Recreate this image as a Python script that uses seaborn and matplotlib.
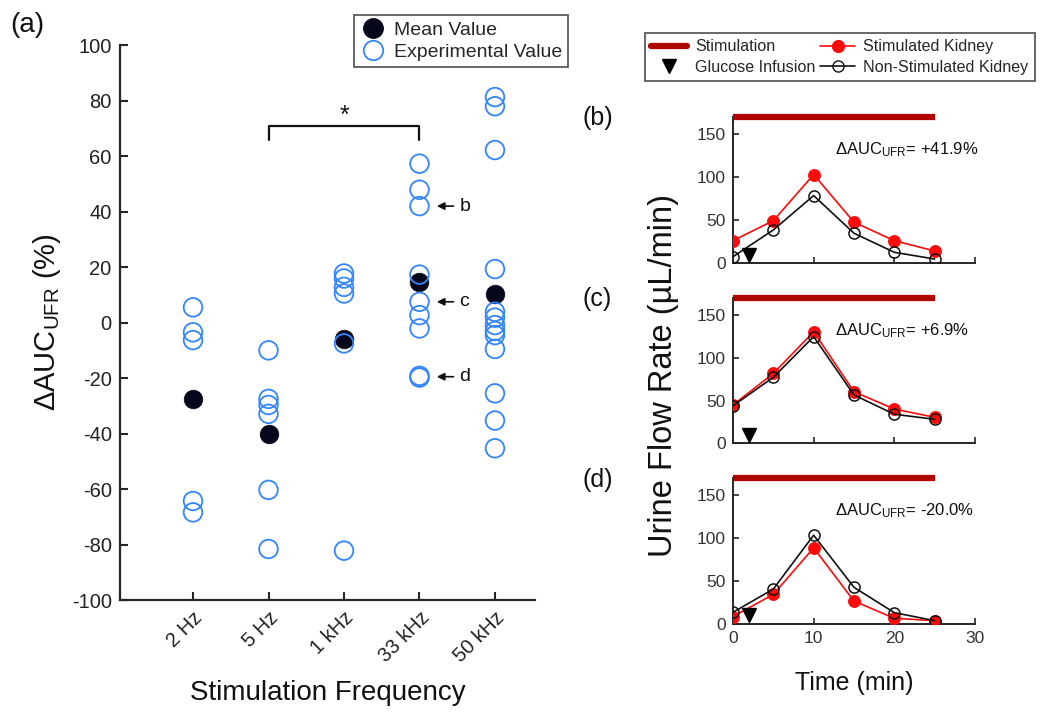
import numpy as np
import pandas as pd
import matplotlib
matplotlib.use("Agg")
import matplotlib.pyplot as plt
import seaborn as sns
from matplotlib.lines import Line2D

# ---------------- data ----------------
frequencies = ["2 Hz", "5 Hz", "1 kHz", "33 kHz", "50 kHz"]
exp_2hz = [5.5, -3.5, -6.3, -64.3, -68.4]
exp_5hz = [-10.0, -27.5, -29.7, -32.9, -60.3, -81.6]
exp_1khz = [17.7, 15.9, 12.9, 10.5, -7.5, -82.2]
exp_33khz = [57.3, 47.9, 42.0, 17.3, 7.5, 2.7, -2.1, -19.2, -19.8]
exp_50khz = [81.3, 78.0, 62.2, 19.3, 3.9, 1.8, -0.9, -3.0, -4.5, -9.5, -25.5, -35.3, -45.3]
mean_values = [-27.6, -40.2, -6.0, 14.7, 10.3]

# labelled example experiments (value of the marked 33 kHz points)
example_labels = ["b", "c", "d"]
example_values = [42.0, 7.5, -19.5]

time_min = [0, 5, 10, 15, 20, 25]
b_stim = [26.3, 49.5, 103.0, 47.7, 26.3, 14.3]
b_non = [7.7, 38.7, 78.6, 34.9, 12.8, 5.0]
c_stim = [44.8, 81.8, 130.5, 60.3, 40.1, 30.4]
c_non = [43.9, 77.2, 124.8, 56.5, 34.0, 28.1]
d_stim = [8.5, 34.5, 88.7, 26.7, 6.6, 3.9]
d_non = [13.6, 40.7, 103.5, 42.7, 13.2, 3.9]
delta_auc = ["+41.9%", "+6.9%", "-20.0%"]

stim_window = [0, 25]
stim_level = 170
glucose_time = 2
glucose_level = 10

# ---------------- style ----------------
sns.set_theme(style="ticks")
plt.rcParams["font.family"] = ["Liberation Sans", "DejaVu Sans"]
plt.rcParams["mathtext.fontset"] = "custom"
plt.rcParams["mathtext.rm"] = "Liberation Sans"
plt.rcParams["mathtext.it"] = "Liberation Sans:italic"
plt.rcParams["mathtext.bf"] = "Liberation Sans:bold"
plt.rcParams["axes.unicode_minus"] = False

AX_COL = "#262626"
BLUE = "#3385ff"
NAVY = "#07071c"
RED = "#ff0a0a"
DARKRED = "#b00000"

fig = plt.figure(figsize=(10.4, 7.15), dpi=100)

# ---------------- panel (a) ----------------
ax = fig.add_axes([0.1154, 0.1608, 0.399, 0.776])

exp_groups = [exp_2hz, exp_5hz, exp_1khz, exp_33khz, exp_50khz]
df_exp = pd.DataFrame({
    "pos": np.concatenate([[i] * len(g) for i, g in enumerate(exp_groups)]),
    "value": np.concatenate(exp_groups),
})
df_mean = pd.DataFrame({"pos": np.arange(len(frequencies)), "value": mean_values})

sns.scatterplot(data=df_mean, x="pos", y="value", ax=ax, s=180,
                color=NAVY, edgecolor=NAVY, linewidth=0.5, zorder=2, legend=False)
sns.scatterplot(data=df_exp, x="pos", y="value", ax=ax, s=180,
                color=BLUE, linewidth=1.3, zorder=3, legend=False)
pts = ax.collections[-1]
pts.set_facecolor("none")
pts.set_edgecolor(BLUE)

ax.set_xlim(-0.967, 4.53)
ax.set_ylim(-100, 100)
ax.set_yticks(np.arange(-100, 101, 20))
ax.set_xticks(np.arange(len(frequencies)))
ax.set_xticklabels(frequencies, rotation=45, ha="right", rotation_mode="anchor")
ax.tick_params(axis="both", direction="in", length=6, width=1.5,
               colors=AX_COL, labelsize=14.5, labelcolor="#222222", pad=6)
for side in ["top", "right"]:
    ax.spines[side].set_visible(False)
for side in ["left", "bottom"]:
    ax.spines[side].set_color(AX_COL)
    ax.spines[side].set_linewidth(1.6)
ax.set_xlabel("Stimulation Frequency", fontsize=20, color="#111111", labelpad=10)
ax.set_ylabel(r"$\Delta$AUC$_{\mathrm{UFR}}$ (%)", fontsize=21, color="#111111", labelpad=6)

# significance bracket between 5 Hz and 33 kHz
ax.plot([1, 1, 3, 3], [66, 70.7, 70.7, 66], color="#111111", lw=1.6, clip_on=False)
ax.text(2, 70.2, "*", ha="center", va="bottom", fontsize=18, color="#111111")

# arrows pointing at the example experiments (33 kHz column)
col33 = frequencies.index("33 kHz")
for lab, val in zip(example_labels, example_values):
    ax.annotate(lab, xy=(col33 + 0.23, val), xytext=(col33 + 0.53, val), textcoords="data",
                fontsize=14, va="center", ha="left", color="#111111",
                arrowprops=dict(arrowstyle="-|>", color="#111111", lw=1.2,
                                shrinkA=2, shrinkB=0, mutation_scale=11))

leg_a = fig.legend(
    handles=[
        Line2D([], [], ls="none", marker="o", ms=14, mfc=NAVY, mec=NAVY),
        Line2D([], [], ls="none", marker="o", ms=14, mfc="none", mec=BLUE, mew=1.3),
    ],
    labels=["Mean Value", "Experimental Value"],
    loc="center", bbox_to_anchor=(0.443, 0.9427), fontsize=14,
    frameon=True, fancybox=False, edgecolor="#333333", handletextpad=0.35,
    handlelength=1.4, borderpad=0.3, labelspacing=0.25)
leg_a.get_frame().set_linewidth(1.3)

fig.text(0.01, 0.965, "(a)", fontsize=20, color="#111111", va="center")

# ---------------- panels (b)-(d) ----------------
panel_rects = [
    [0.7048, 0.6317, 0.2327, 0.205],
    [0.7048, 0.3800, 0.2327, 0.2032],
    [0.7048, 0.1273, 0.2327, 0.2040],
]
panel_tags = ["(b)", "(c)", "(d)"]
stim_series = [b_stim, c_stim, d_stim]
non_series = [b_non, c_non, d_non]

for k, rect in enumerate(panel_rects):
    axp = fig.add_axes(rect)
    df = pd.DataFrame({"time": time_min, "stim": stim_series[k], "non": non_series[k]})
    sns.lineplot(data=df, x="time", y="stim", ax=axp, color=RED, lw=1.2,
                 marker="o", ms=8.5, mfc=RED, mec=RED, zorder=3)
    sns.lineplot(data=df, x="time", y="non", ax=axp, color="#111111", lw=1.2,
                 marker="o", ms=8, mfc="none", mec="#111111", mew=1.1, zorder=4)
    axp.plot(stim_window, [stim_level, stim_level], color=DARKRED, lw=4.5,
             solid_capstyle="butt", clip_on=False, zorder=5)
    axp.plot([glucose_time], [glucose_level], ls="none", marker="v", ms=10,
             color="black", zorder=6, clip_on=False)
    axp.text(12.6, 132, r"$\Delta$AUC$_{\mathrm{UFR}}$= " + delta_auc[k],
             fontsize=12, color="#111111", va="center", ha="left")

    axp.set_xlim(0, 30)
    axp.set_ylim(0, 170)
    axp.set_xticks([0, 10, 20, 30])
    axp.set_yticks([0, 50, 100, 150])
    axp.tick_params(axis="both", direction="in", length=4, width=1.2,
                    colors=AX_COL, labelsize=12.5, labelcolor="#333333", pad=5)
    if k < 2:
        axp.set_xticklabels([])
    axp.set_xlabel("")
    axp.set_ylabel("")
    for side in ["top", "right"]:
        axp.spines[side].set_visible(False)
    for side in ["left", "bottom"]:
        axp.spines[side].set_color(AX_COL)
        axp.spines[side].set_linewidth(1.4)
    y_top = rect[1] + rect[3]
    fig.text(0.56, y_top - 0.002, panel_tags[k], fontsize=18, color="#111111", va="center")
    if k == 2:
        axp.set_xlabel("Time (min)", fontsize=18, color="#111111", labelpad=18)

fig.text(0.638, 0.475, "Urine Flow Rate (\u00b5L/min)", rotation=90, fontsize=23.5,
         color="#111111", ha="center", va="center")

leg_r = fig.legend(
    handles=[
        Line2D([], [], color=DARKRED, lw=4.5),
        Line2D([], [], ls="none", marker="v", ms=10, color="black"),
        Line2D([], [], color=RED, lw=1.2, marker="o", ms=8.5, mfc=RED, mec=RED),
        Line2D([], [], color="#111111", lw=1.2, marker="o", ms=8, mfc="none", mec="#111111"),
    ],
    labels=["Stimulation", "Glucose Infusion", "Stimulated Kidney", "Non-Stimulated Kidney"],
    loc="center", bbox_to_anchor=(0.8077, 0.920), ncol=2, fontsize=11.6,
    frameon=True, fancybox=False, edgecolor="#333333", handlelength=2.2,
    handletextpad=0.5, columnspacing=0.3, borderpad=0.4, labelspacing=0.35)
leg_r.get_frame().set_linewidth(1.3)

fig.savefig("out.png", dpi=100)
